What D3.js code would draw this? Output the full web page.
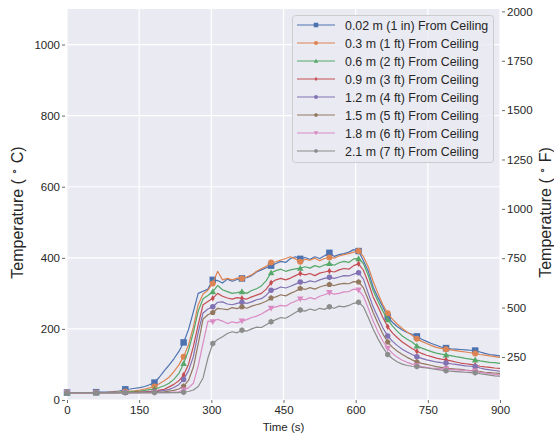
<!DOCTYPE html>
<html>
<head>
<meta charset="utf-8">
<script src="https://cdn.jsdelivr.net/npm/d3@7"></script>
<style>
  html, body { margin: 0; padding: 0; background: #ffffff; }
  svg { display: block; font-family: "Liberation Sans", Arial, sans-serif; }
</style>
</head>
<body>
<svg id="chart" width="554" height="437"></svg>
<script>
// ---------------- DATA ----------------
const sampleStep = 10.1; // seconds between samples
const time = d3.range(91).map(i => i * sampleStep);

const seriesNames = [
  "0.02 m (1 in) From Ceiling",
  "0.3 m (1 ft) From Ceiling",
  "0.6 m (2 ft) From Ceiling",
  "0.9 m (3 ft) From Ceiling",
  "1.2 m (4 ft) From Ceiling",
  "1.5 m (5 ft) From Ceiling",
  "1.8 m (6 ft) From Ceiling",
  "2.1 m (7 ft) From Ceiling"
];

const tc1in = [21,21,21,21,21,21,22,22,22,23,24,26,30,31,33,35,38,43,49,64,82,98,116,136,162,198,248,300,306,312,
  338,336,329,340,334,339,342,344,350,360,366,372,378,384,390,387,398,403,397,401,396,403,398,406,414,404,409,412,416,423,
  419,392,362,318,288,262,233,218,206,197,190,185,179,171,165,159,154,149,146,144,143,142,141,140,139,135,131,128,126,124,123];
const tc1ft = [21,21,21,21,21,21,21,21,21,22,22,23,24,25,26,28,31,34,38,46,54,64,80,98,122,155,205,268,298,309,
  328,362,338,342,338,343,342,346,352,362,369,376,387,389,394,398,403,397,389,396,393,399,392,398,401,399,405,409,412,416,
  419,404,374,334,300,268,244,227,213,201,191,182,172,165,159,153,148,145,143,141,139,137,135,133,131,128,126,124,122,120,119];
const tc2ft = [21,21,21,21,21,21,21,21,21,21,21,22,22,23,24,25,27,29,31,35,40,47,58,74,103,140,190,250,285,294,
  305,322,310,305,300,302,305,300,308,313,321,336,358,364,368,362,366,369,371,375,371,378,374,380,384,379,386,390,387,397,
  398,384,350,308,278,250,226,208,193,180,171,163,152,146,141,136,132,129,127,125,122,120,117,115,113,110,108,106,105,103,102];
const tc3ft = [21,21,21,21,21,21,21,21,21,21,21,21,21,21,22,22,23,24,26,28,30,37,44,54,70,100,150,212,268,277,
  286,300,292,287,284,288,286,284,290,295,300,312,330,338,342,338,343,350,356,352,356,350,357,360,363,360,366,370,368,378,
  383,365,330,290,262,232,206,188,175,163,154,145,137,131,126,122,118,115,113,110,107,104,102,100,98,95,93,92,90,89,88];
const tc4ft = [21,21,21,21,21,21,21,21,21,21,21,21,21,21,21,21,22,22,23,25,27,30,35,43,58,82,122,190,245,256,
  262,275,276,270,268,272,275,272,276,282,285,295,309,312,318,315,320,326,332,330,335,332,338,342,345,342,346,350,349,354,
  358,340,300,262,232,203,180,165,153,143,135,128,122,117,113,110,107,105,104,102,100,98,96,95,94,90,87,85,83,81,80];
const tc5ft = [21,21,21,21,21,21,21,21,21,21,21,21,21,21,21,21,21,21,22,22,23,25,27,31,39,55,92,158,228,240,
  246,258,256,254,260,257,262,258,264,268,272,278,287,290,296,293,300,306,314,311,316,312,318,322,325,322,326,328,327,333,
  332,316,282,246,215,186,163,148,137,128,120,113,107,103,100,97,94,92,89,88,87,86,84,83,82,80,78,77,76,75,74];
const tc6ft = [21,21,21,21,21,21,21,21,21,21,21,21,21,21,21,21,21,21,21,21,21,21,22,23,28,34,47,96,160,222,
  220,227,222,215,220,217,222,226,232,236,242,250,258,262,266,264,272,278,284,282,288,284,292,296,302,298,300,304,305,312,
  309,292,258,222,192,166,145,131,120,112,106,101,97,94,92,90,89,88,87,86,85,84,83,82,81,78,76,74,72,71,70];
const tc7ft = [21,21,21,21,21,21,21,21,21,21,21,21,21,21,21,21,21,21,21,21,21,21,21,21,22,24,28,38,62,118,
  159,170,178,187,192,189,196,194,200,205,204,212,220,226,232,230,238,246,253,250,256,252,258,255,262,258,264,262,266,272,
  275,262,232,200,172,148,128,116,107,101,97,95,94,92,90,88,86,84,82,81,80,79,78,77,77,74,72,70,68,67,66];

const seriesValues = [tc1in, tc1ft, tc2ft, tc3ft, tc4ft, tc5ft, tc6ft, tc7ft];
const colors = ["#4C72B0","#DD8452","#55A868","#C44E52","#8172B3","#937860","#DA8BC3","#8C8C8C"];
const markerKinds = ["square","circle","triangle","thindiamond","circle","pentagon","triangledown","hexagon"];
const markerEvery = 6;

const xTicks = [0,150,300,450,600,750,900];
const yTicksC = [0,200,400,600,800,1000];
const yTicksF = [250,500,750,1000,1250,1500,1750,2000];

// ---------------- LAYOUT ----------------
const svg = d3.select("#chart");
const L = 67, R = 500, T = 9, B = 400;
const x = d3.scaleLinear().domain([0, 900]).range([L, R]);
const y = d3.scaleLinear().domain([0, 1100]).range([B, T]);
const yF = d3.scaleLinear().domain([0*1.8+32, 1100*1.8+32]).range([B, T]);

svg.append("rect").attr("x", L).attr("y", T).attr("width", R-L).attr("height", B-T).attr("fill", "#EAEAF2");

// grid
svg.append("g").selectAll("line").data(xTicks).join("line")
  .attr("x1", d => x(d)).attr("x2", d => x(d)).attr("y1", T).attr("y2", B)
  .attr("stroke", "#ffffff").attr("stroke-width", 1.2);
svg.append("g").selectAll("line").data(yTicksC).join("line")
  .attr("x1", L).attr("x2", R).attr("y1", d => y(d)).attr("y2", d => y(d))
  .attr("stroke", "#ffffff").attr("stroke-width", 1.2);

// axes
function styleAxis(g) {
  g.select(".domain").remove();
  g.selectAll(".tick line").attr("stroke", "#444").attr("stroke-width", 0.8);
  g.selectAll(".tick text").attr("fill", "#262626").style("font-size", "11.5px")
    .style("font-family", '"Liberation Sans", Arial, sans-serif');
}
svg.append("g").attr("transform", `translate(0,${B})`)
  .call(d3.axisBottom(x).tickValues(xTicks).tickSize(3).tickPadding(3).tickFormat(d3.format("d")))
  .call(styleAxis);
svg.append("g").attr("transform", `translate(${L-2},0)`)
  .call(d3.axisLeft(y).tickValues(yTicksC).tickSize(3).tickPadding(2).tickFormat(d3.format("d")))
  .call(styleAxis);
svg.append("g").attr("transform", `translate(${R+2},0)`)
  .call(d3.axisRight(yF).tickValues(yTicksF).tickSize(3).tickPadding(2).tickFormat(d3.format("d")))
  .call(styleAxis);

// axis labels
svg.append("text").attr("x", (L+R)/2).attr("y", 431).attr("text-anchor", "middle")
  .attr("fill", "#262626").style("font-size", "11.5px").text("Time (s)");

function tempLabel(xpos, unit) {
  const t = svg.append("text").attr("transform", `translate(${xpos},${(T+B)/2 + 8}) rotate(-90)`)
    .attr("text-anchor", "middle").attr("fill", "#262626").style("font-size", "16px");
  t.append("tspan").text("Temperature ( ");
  t.append("tspan").attr("dy", -5).style("font-size", "11px").text("\u2218");
  t.append("tspan").attr("dy", 5).text(" " + unit + ")");
}
tempLabel(23, "C");
tempLabel(551, "F");

// symbols
function symbolPath(kind, s) {
  switch (kind) {
    case "square": return d3.symbol(d3.symbolSquare, s*s)();
    case "circle": return d3.symbol(d3.symbolCircle, Math.PI*s*s/4)();
    case "triangle": {
      const h = s/2; return `M0,${-h}L${h},${h*0.8}L${-h},${h*0.8}Z`;
    }
    case "triangledown": {
      const h = s/2; return `M0,${h}L${h},${-h*0.8}L${-h},${-h*0.8}Z`;
    }
    case "thindiamond": {
      const h = s/2; return `M0,${-h}L${h*0.6},0L0,${h}L${-h*0.6},0Z`;
    }
    case "pentagon": {
      const r = s/2; const pts = d3.range(5).map(i => {
        const a = -Math.PI/2 + i*2*Math.PI/5; return [r*Math.cos(a), r*Math.sin(a)]; });
      return "M" + pts.map(p => p.join(",")).join("L") + "Z";
    }
    case "hexagon": {
      const r = s/2; const pts = d3.range(6).map(i => {
        const a = -Math.PI/2 + i*Math.PI/3; return [r*Math.cos(a), r*Math.sin(a)]; });
      return "M" + pts.map(p => p.join(",")).join("L") + "Z";
    }
  }
}
const markerSize = [6.5, 6, 6.5, 6.5, 5.5, 6, 6.5, 6];

// clip
svg.append("clipPath").attr("id", "clip").append("rect")
  .attr("x", L).attr("y", T).attr("width", R-L).attr("height", B-T);

const line = d3.line().x(d => x(d[0])).y(d => y(d[1]));
const plotG = svg.append("g");
seriesValues.forEach((vals, si) => {
  const pts = vals.map((v, i) => [time[i], v]);
  const g = plotG.append("g");
  g.append("path").attr("clip-path", "url(#clip)").attr("d", line(pts))
    .attr("fill", "none").attr("stroke", colors[si]).attr("stroke-width", 1.2)
    .attr("stroke-linejoin", "round");
  g.selectAll("path.mk").data(pts.filter((p, i) => i % markerEvery === 0 && p[0] <= 900))
    .join("path").attr("class", "mk")
    .attr("transform", d => `translate(${x(d[0])},${y(d[1])})`)
    .attr("d", symbolPath(markerKinds[si], markerSize[si]))
    .attr("fill", colors[si]);
});

// legend
const lg = svg.append("g");
lg.append("rect").attr("x", 292.5).attr("y", 15.5).attr("width", 201).attr("height", 147)
  .attr("rx", 3).attr("fill", "#EAEAF2").attr("fill-opacity", 0.85)
  .attr("stroke", "#cccccc").attr("stroke-width", 1);
seriesNames.forEach((name, i) => {
  const yy = 25 + i * 18;
  lg.append("line").attr("x1", 297).attr("x2", 335).attr("y1", yy).attr("y2", yy)
    .attr("stroke", colors[i]).attr("stroke-width", 1.2);
  lg.append("path").attr("transform", `translate(316,${yy})`)
    .attr("d", symbolPath(markerKinds[i], markerSize[i]*0.7)).attr("fill", colors[i]);
  lg.append("text").attr("x", 345).attr("y", yy + 4.5).attr("fill", "#262626")
    .style("font-size", "12.4px").text(name);
});
</script>
</body>
</html>
